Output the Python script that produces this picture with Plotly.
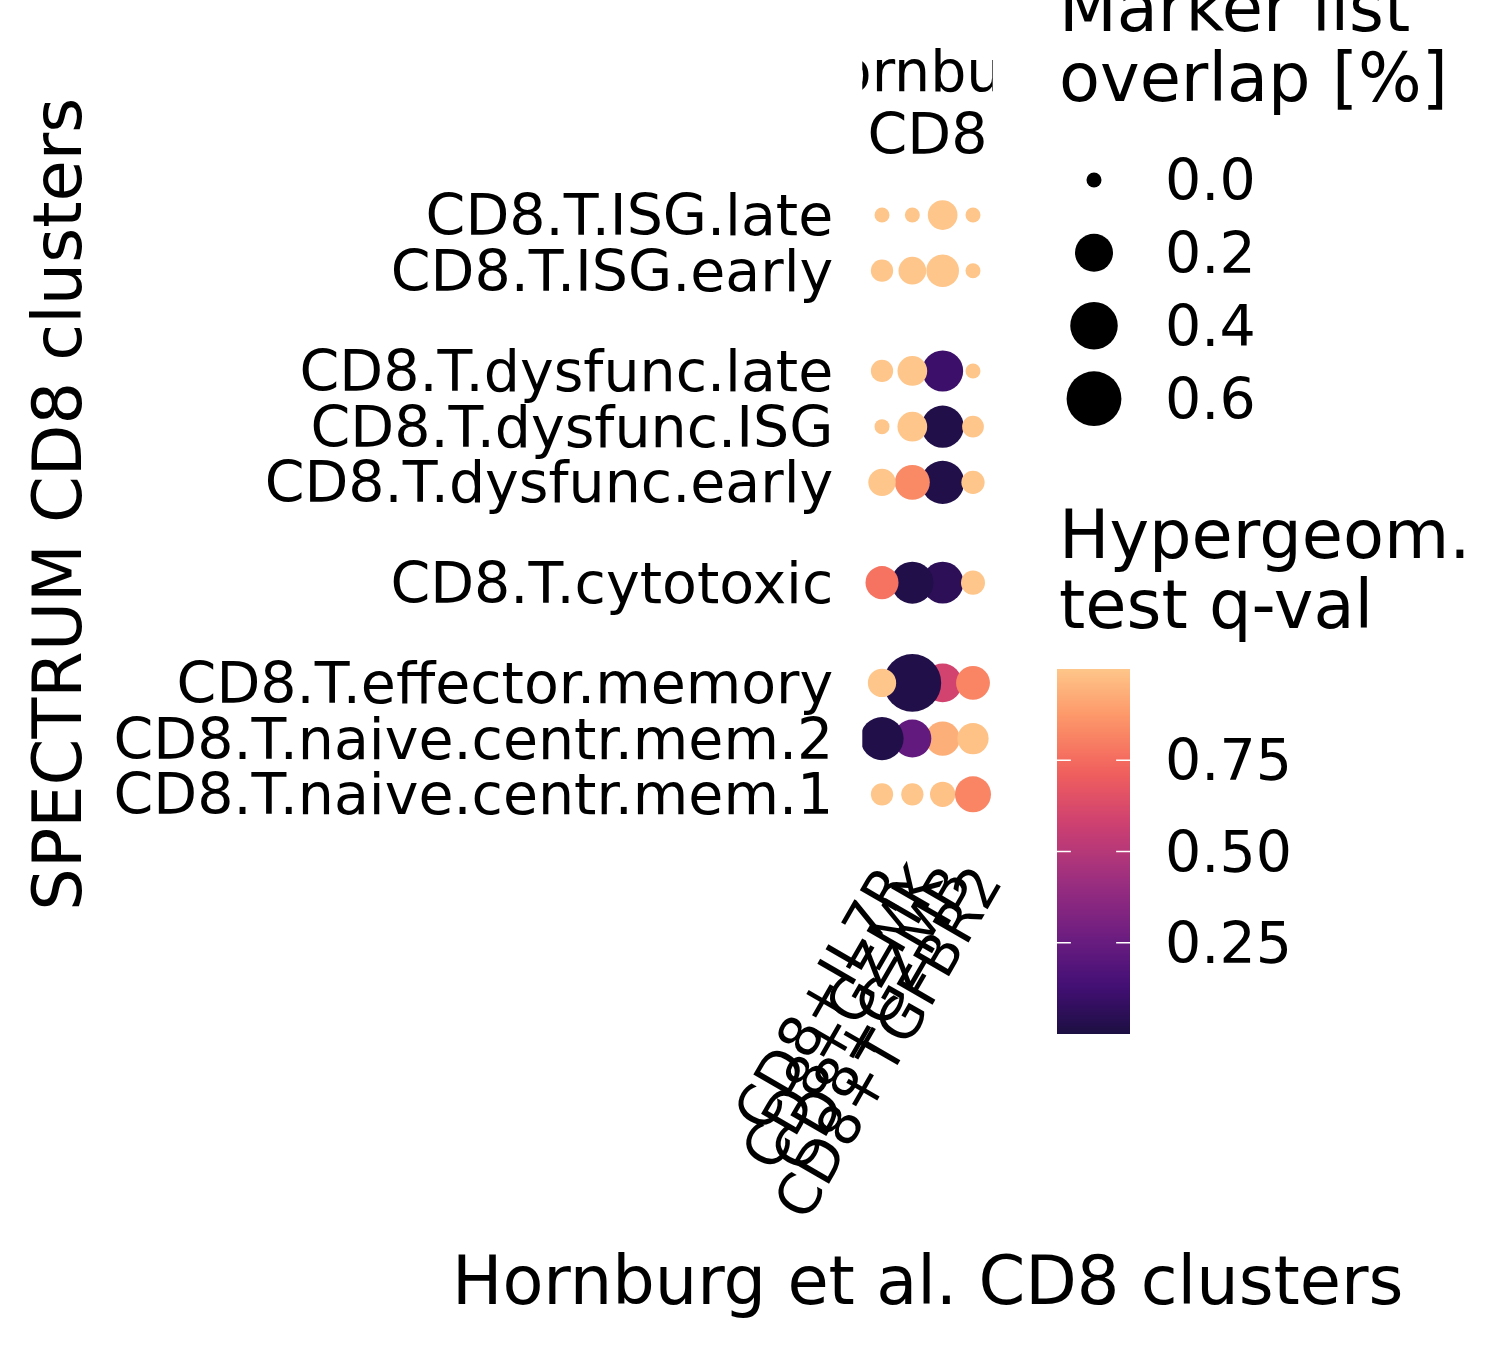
import numpy as np
import plotly.graph_objects as go

# ---------------- data ----------------
spectrum_clusters = [
    "CD8.T.ISG.late", "CD8.T.ISG.early",
    "CD8.T.dysfunc.late", "CD8.T.dysfunc.ISG", "CD8.T.dysfunc.early",
    "CD8.T.cytotoxic",
    "CD8.T.effector.memory", "CD8.T.naive.centr.mem.2", "CD8.T.naive.centr.mem.1",
]
spectrum_groups = ["ISG", "ISG", "dysfunc", "dysfunc", "dysfunc",
                   "cytotoxic", "memory", "memory", "memory"]
hornburg_clusters = ["CD8+IL7R", "CD8+GZMK", "CD8+GZMB", "CD8+TGFBR2"]

# marker list overlap (rows = spectrum clusters, cols = hornburg clusters)
overlap = [
    [0.000, 0.000, 0.082, 0.000],
    [0.020, 0.061, 0.118, 0.000],
    [0.020, 0.082, 0.256, 0.000],
    [0.000, 0.082, 0.280, 0.017],
    [0.058, 0.151, 0.300, 0.026],
    [0.123, 0.276, 0.270, 0.031],
    [0.067, 0.690, 0.210, 0.135],
    [0.300, 0.200, 0.140, 0.100],
    [0.020, 0.020, 0.040, 0.167],
]
# hypergeometric test q-values
qval = [
    [1.00, 1.00, 1.00, 1.00],
    [1.00, 1.00, 1.00, 1.00],
    [1.00, 1.00, 0.105, 1.00],
    [1.00, 1.00, 0.015, 1.00],
    [1.00, 0.83, 0.015, 1.00],
    [0.77, 0.015, 0.054, 1.00],
    [1.00, 0.015, 0.59, 0.82],
    [0.015, 0.23, 0.935, 0.99],
    [1.00, 1.00, 0.99, 0.82],
]
size_breaks = [0.0, 0.2, 0.4, 0.6]
color_breaks = [0.25, 0.50, 0.75]

# ---------------- styles / scales ----------------
W, H = 1500, 1350
FONT = "DejaVu Sans"
TXT = 57
TTL = 67

magma10 = ['#000004', '#180f3d', '#440f76', '#721f81', '#9e2f7f',
           '#cd4071', '#f1605d', '#fd9668', '#feca8d', '#fcfdbf']


def hex2rgb(h):
    h = h.lstrip('#')
    return np.array([int(h[i:i + 2], 16) for i in (0, 2, 4)], float)


def magma(t):
    pos = np.linspace(0, 1, len(magma10))
    cols = np.array([hex2rgb(c) for c in magma10])
    rgb = [np.interp(t, pos, cols[:, k]) for k in range(3)]
    return "rgb(%d,%d,%d)" % tuple(int(round(v)) for v in rgb)


BEGIN, END = 0.12, 0.88
colorscale = [[float(s), magma(BEGIN + s * (END - BEGIN))] for s in np.linspace(0, 1, 25)]


def dot_size(v):
    return [float(15 + 51.4 * np.sqrt(x)) for x in np.atleast_1d(np.asarray(v, float))]


# y positions with gaps between groups
ypos = []
g = 0
for i, grp in enumerate(spectrum_groups):
    if i > 0 and grp != spectrum_groups[i - 1]:
        g += 1
    ypos.append(i + 0.8 * g)

# pixel geometry of the panel
px_x0, px_x1 = 862.3, 992.7
px_y0, px_y1 = 181.6, 827.7

fig = go.Figure()

# points in alphabetical order of hornburg cluster (drawing order)
xs, ys, ss, cs = [], [], [], []
for name in sorted(hornburg_clusters):
    j = hornburg_clusters.index(name)
    for i in range(len(spectrum_clusters)):
        xs.append(name)
        ys.append(ypos[i])
        ss.append(dot_size(overlap[i][j])[0])
        cs.append(qval[i][j])

fig.add_trace(go.Scatter(
    x=xs, y=ys, mode="markers",
    marker=dict(size=ss, color=cs, colorscale=colorscale, cmin=0, cmax=1,
                showscale=False, line=dict(width=0), opacity=1),
    hoverinfo="skip", showlegend=False, xaxis="x", yaxis="y"))

# strip text (clipped to panel width)
fig.add_trace(go.Scatter(
    x=[0.5, 0.5], y=[76.6, 140], mode="text", text=["Hornburg", "CD8"],
    textposition="middle center", textfont=dict(family=FONT, size=TXT, color="black"),
    cliponaxis=True, hoverinfo="skip", showlegend=False, xaxis="x2", yaxis="y2"))

# size legend keys
leg_x = 1094
leg_y = [180, 252.7, 325.7, 398.7]
fig.add_trace(go.Scatter(
    x=[leg_x] * len(size_breaks), y=leg_y, mode="markers",
    marker=dict(size=dot_size(size_breaks), color="black", opacity=1, line=dict(width=0)),
    hoverinfo="skip", showlegend=False, xaxis="x3", yaxis="y3"))

# colorbar as heatmap
cb_vals = np.linspace(0, 1, 300)
fig.add_trace(go.Heatmap(
    x=[0.5], y=cb_vals, z=[[v] for v in cb_vals], colorscale=colorscale,
    zmin=0, zmax=1, showscale=False, hoverinfo="skip", xaxis="x4", yaxis="y4"))
for b in color_breaks:
    for seg in ([0, 0.19], [0.81, 1]):
        fig.add_trace(go.Scatter(
            x=seg, y=[b, b], mode="lines", line=dict(color="white", width=1.5),
            hoverinfo="skip", showlegend=False, xaxis="x4", yaxis="y4"))

# ---------------- layout ----------------
annotations = []


def ann(text, x, y, size, xanchor="left", yanchor="middle", angle=0):
    annotations.append(dict(text=text, x=x, y=y, xref="x3", yref="y3",
                            xanchor=xanchor, yanchor=yanchor, showarrow=False,
                            textangle=angle,
                            font=dict(family=FONT, size=size, color="black")))


ann("Marker list", 1057, 32 - 0.364 * TTL, TTL)
ann("overlap [%]", 1057, 102 - 0.364 * TTL, TTL)
for b, yy in zip(size_breaks, leg_y):
    ann("%.1f" % b, 1163, yy, TXT)
ann("Hypergeom.", 1057, 559 - 0.364 * TTL, TTL)
ann("test q-val", 1057, 629 - 0.364 * TTL, TTL)
cb_top, cb_bot = 669, 1034
for b in color_breaks:
    ann("%.2f" % b, 1163, cb_bot - b * (cb_bot - cb_top), TXT)
ann("Hornburg et al. CD8 clusters", (px_x0 + px_x1) / 2, 1281, TTL, xanchor="center")
ann("SPECTRUM CD8 clusters", 58, (px_y0 + px_y1) / 2, TTL, xanchor="center", angle=-90)

hidden = dict(visible=False, fixedrange=True, automargin=False)
fig.update_layout(
    template="none",
    width=W, height=H, margin=dict(l=0, r=0, t=0, b=0, pad=0, autoexpand=False),
    paper_bgcolor="white", plot_bgcolor="rgba(0,0,0,0)",
    font=dict(family=FONT, color="black"),
    showlegend=False,
    annotations=annotations,
    xaxis=dict(domain=[px_x0 / W, px_x1 / W], type="category",
               categoryorder="array", categoryarray=hornburg_clusters,
               tickmode="array", tickvals=hornburg_clusters, ticktext=hornburg_clusters,
               range=[-0.65, 3.65], showgrid=False, zeroline=False, showline=False,
               ticks="", tickangle=-60, ticklabelstandoff=10, ticklabelshift=6,
               automargin=False,
               tickfont=dict(family=FONT, size=TXT, color="black"), fixedrange=True),
    yaxis=dict(domain=[1 - px_y1 / H, 1 - px_y0 / H],
               range=[ypos[-1] + 0.6, -0.6], tickmode="array",
               tickvals=ypos, ticktext=spectrum_clusters,
               showgrid=False, zeroline=False, showline=False, ticks="",
               ticklabelstandoff=28, automargin=False,
               tickfont=dict(family=FONT, size=TXT, color="black"), fixedrange=True),
    xaxis2=dict(domain=[px_x0 / W, px_x1 / W], range=[0, 1], anchor="y2", **hidden),
    yaxis2=dict(domain=[1 - 181 / H, 1 - 20 / H], range=[181, 20], anchor="x2", **hidden),
    xaxis3=dict(domain=[0, 1], range=[0, W], anchor="y3", **hidden),
    yaxis3=dict(domain=[0, 1], range=[H, 0], anchor="x3", **hidden),
    xaxis4=dict(domain=[1057 / W, 1130 / W], range=[0, 1], anchor="y4", **hidden),
    yaxis4=dict(domain=[1 - cb_bot / H, 1 - cb_top / H], range=[0, 1], anchor="x4", **hidden),
)

fig.write_html("out.html")
